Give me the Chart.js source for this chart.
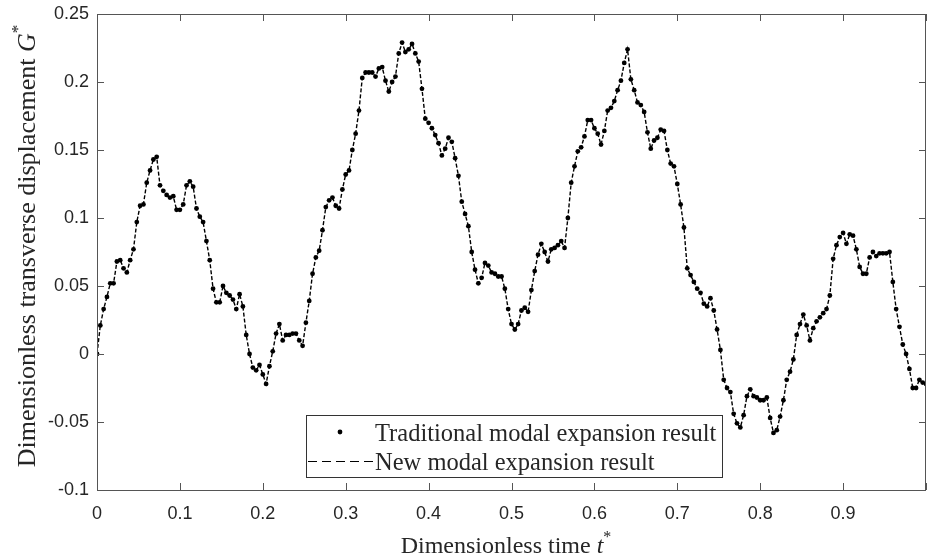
<!DOCTYPE html>
<html>
<head>
<meta charset="utf-8">
<title>Transverse displacement</title>
<script src="https://cdn.jsdelivr.net/npm/chart.js@4.4.1/dist/chart.umd.min.js"></script>
<style>
  html, body { margin: 0; padding: 0; background: #fff; }
</style>
</head>
<body>
<canvas id="disp" width="927" height="560"></canvas>
<script>
// time step of the sampled response (t* from 0 to 1)
const tStep = 0.004;

// G*, one value per time step
const gValues = [
  0.000, 0.021, 0.033, 0.042, 0.052, 0.052, 0.068, 0.069, 0.063, 0.060,
  0.069, 0.077, 0.097, 0.109, 0.110, 0.126, 0.135, 0.143, 0.145, 0.124,
  0.120, 0.117, 0.115, 0.116, 0.106, 0.106, 0.110, 0.124, 0.127, 0.123,
  0.107, 0.101, 0.097, 0.083, 0.069, 0.048, 0.038, 0.038, 0.050, 0.045,
  0.043, 0.040, 0.033, 0.044, 0.035, 0.014, 0.000, -0.010, -0.012, -0.008,
  -0.015, -0.022, -0.009, 0.002, 0.015, 0.022, 0.010, 0.014, 0.014, 0.015,
  0.015, 0.010, 0.006, 0.023, 0.039, 0.059, 0.071, 0.076, 0.091, 0.108,
  0.113, 0.115, 0.109, 0.107, 0.121, 0.132, 0.135, 0.150, 0.162, 0.179,
  0.203, 0.207, 0.207, 0.207, 0.204, 0.210, 0.211, 0.201, 0.193, 0.200,
  0.204, 0.221, 0.229, 0.222, 0.224, 0.228, 0.221, 0.215, 0.195, 0.173,
  0.170, 0.166, 0.161, 0.155, 0.146, 0.151, 0.159, 0.156, 0.144, 0.131,
  0.112, 0.103, 0.094, 0.075, 0.062, 0.052, 0.056, 0.067, 0.065, 0.060,
  0.059, 0.057, 0.057, 0.048, 0.033, 0.022, 0.018, 0.022, 0.032, 0.034,
  0.031, 0.047, 0.061, 0.073, 0.081, 0.075, 0.068, 0.077, 0.078, 0.080,
  0.083, 0.078, 0.100, 0.126, 0.138, 0.149, 0.152, 0.160, 0.172, 0.172,
  0.166, 0.162, 0.154, 0.164, 0.179, 0.181, 0.186, 0.194, 0.201, 0.214,
  0.224, 0.202, 0.194, 0.185, 0.183, 0.178, 0.163, 0.151, 0.157, 0.159,
  0.165, 0.164, 0.150, 0.140, 0.138, 0.125, 0.110, 0.093, 0.063, 0.058,
  0.053, 0.048, 0.045, 0.037, 0.035, 0.041, 0.032, 0.018, 0.003, -0.019,
  -0.025, -0.028, -0.044, -0.051, -0.054, -0.045, -0.031, -0.026, -0.031, -0.032,
  -0.034, -0.034, -0.032, -0.047, -0.058, -0.056, -0.046, -0.034, -0.019, -0.013,
  -0.004, 0.014, 0.022, 0.029, 0.021, 0.010, 0.019, 0.024, 0.027, 0.030,
  0.033, 0.043, 0.070, 0.080, 0.086, 0.089, 0.081, 0.088, 0.087, 0.077,
  0.064, 0.059, 0.059, 0.071, 0.075, 0.072, 0.074, 0.074, 0.074, 0.075,
  0.053, 0.033, 0.020, 0.007, 0.000, -0.011, -0.025, -0.025, -0.019, -0.021,
  -0.022
];

const times = gValues.map((g, i) => +(i * tStep).toFixed(3));

const xTicks = [0, 0.1, 0.2, 0.3, 0.4, 0.5, 0.6, 0.7, 0.8, 0.9, 1];
const yTicks = [-0.1, -0.05, 0, 0.05, 0.1, 0.15, 0.2, 0.25];
const legendNames = ["Traditional modal expansion result", "New modal expansion result"];

const serif = "'Liberation Serif', 'Times New Roman', serif";
const sans = "'Liberation Sans', Arial, sans-serif";
const inkColor = '#262626';
const frameColor = '#555';

// draws a run of text pieces with their own fonts (italic, superscript)
function drawPieces(ctx, pieces, x, y) {
    let w = 0;
    for (let p of pieces) { ctx.font = p.font; w += ctx.measureText(p.text).width; }
    let cx = x - w / 2;
    for (let p of pieces) {
        ctx.font = p.font;
        ctx.fillText(p.text, cx, y + (p.dy || 0));
        cx += ctx.measureText(p.text).width;
    }
}

const framePlugin = {
    id: 'frame',
    afterDraw(chart) {
        const ctx = chart.ctx;
        const a = chart.chartArea;
        const xs = chart.scales.x, ys = chart.scales.y;
        ctx.save();
        ctx.strokeStyle = frameColor;
        ctx.lineWidth = 1;
        ctx.strokeRect(a.left + 0.5, a.top + 0.5, a.right - a.left - 1, a.bottom - a.top);

        // inward ticks on all four sides
        ctx.beginPath();
        for (let v of xTicks) {
            let px = Math.round(xs.getPixelForValue(v)) + 0.5;
            ctx.moveTo(px, a.bottom); ctx.lineTo(px, a.bottom - 7);
            ctx.moveTo(px, a.top); ctx.lineTo(px, a.top + 7);
        }
        for (let v of yTicks) {
            let py = Math.round(ys.getPixelForValue(v)) + 0.5;
            ctx.moveTo(a.left, py); ctx.lineTo(a.left + 7, py);
            ctx.moveTo(a.right, py); ctx.lineTo(a.right - 7, py);
        }
        ctx.stroke();

        // legend box
        const bx = 306, by = 415, bw = 416, bh = 62;
        ctx.fillStyle = '#fff';
        ctx.fillRect(bx, by, bw, bh);
        ctx.strokeStyle = '#333';
        ctx.strokeRect(bx + 0.5, by + 0.5, bw, bh);
        ctx.fillStyle = '#000';
        ctx.beginPath();
        ctx.arc(340, 432, 2.4, 0, Math.PI * 2);
        ctx.fill();
        ctx.strokeStyle = '#000';
        ctx.setLineDash([9, 5]);
        ctx.beginPath();
        ctx.moveTo(308, 461.5); ctx.lineTo(373, 461.5);
        ctx.stroke();
        ctx.setLineDash([]);
        ctx.fillStyle = inkColor;
        ctx.font = '24.5px ' + serif;
        ctx.textAlign = 'left';
        ctx.textBaseline = 'alphabetic';
        ctx.fillText(legendNames[0], 375, 441);
        ctx.fillText(legendNames[1], 375, 470);

        // axis titles
        drawPieces(ctx, [
            { text: 'Dimensionless time ', font: '24px ' + serif },
            { text: 't', font: 'italic 24px ' + serif },
            { text: '*', font: '16px ' + serif, dy: -11 }
        ], 506, 553);

        ctx.translate(35, 246);
        ctx.rotate(-Math.PI / 2);
        drawPieces(ctx, [
            { text: 'Dimensionless transverse displacement ', font: '26px ' + serif },
            { text: 'G', font: 'italic 26px ' + serif },
            { text: '*', font: '17px ' + serif, dy: -12 }
        ], 0, 0);
        ctx.restore();
    }
};

const points = times.map((t, i) => ({ x: t, y: gValues[i] }));

document.addEventListener("DOMContentLoaded", () => {
    new Chart(document.getElementById('disp'), {
        type: 'scatter',
        data: {
            datasets: [{
                label: legendNames[1],
                data: points,
                showLine: true,
                borderColor: '#000',
                borderWidth: 1.4,
                borderDash: [4, 2],
                pointRadius: 0,
                pointHoverRadius: 0,
                order: 2
            }, {
                label: legendNames[0],
                data: points,
                showLine: false,
                pointRadius: 2.4,
                pointHoverRadius: 0,
                pointBorderWidth: 0,
                pointBackgroundColor: '#000',
                order: 1
            }]
        },
        options: {
            responsive: false,
            animation: false,
            events: [],
            layout: { autoPadding: false, padding: { top: 14, right: 1, left: 0, bottom: 0 } },
            plugins: { legend: { display: false }, tooltip: { enabled: false } },
            scales: {
                x: {
                    type: 'linear', min: 0, max: 1,
                    afterBuildTicks: s => { s.ticks = xTicks.map(v => ({ value: v })); },
                    afterFit: s => { s.height = 70; s.paddingLeft = 0; s.paddingRight = 0; },
                    grid: { display: false, drawTicks: false },
                    border: { display: false },
                    ticks: {
                        autoSkip: false, maxRotation: 0, padding: 13, color: inkColor,
                        font: { family: sans, size: 18 },
                        callback: v => v === 1 ? '' : String(v)
                    }
                },
                y: {
                    type: 'linear', min: -0.1, max: 0.25,
                    afterBuildTicks: s => { s.ticks = yTicks.map(v => ({ value: v })); },
                    afterFit: s => { s.width = 97; s.paddingTop = 0; s.paddingBottom = 0; },
                    grid: { display: false, drawTicks: false },
                    border: { display: false },
                    ticks: {
                        padding: 8, color: inkColor,
                        font: { family: sans, size: 18 },
                        callback: v => String(v)
                    }
                }
            }
        },
        plugins: [framePlugin]
    });
});
</script>
</body>
</html>
